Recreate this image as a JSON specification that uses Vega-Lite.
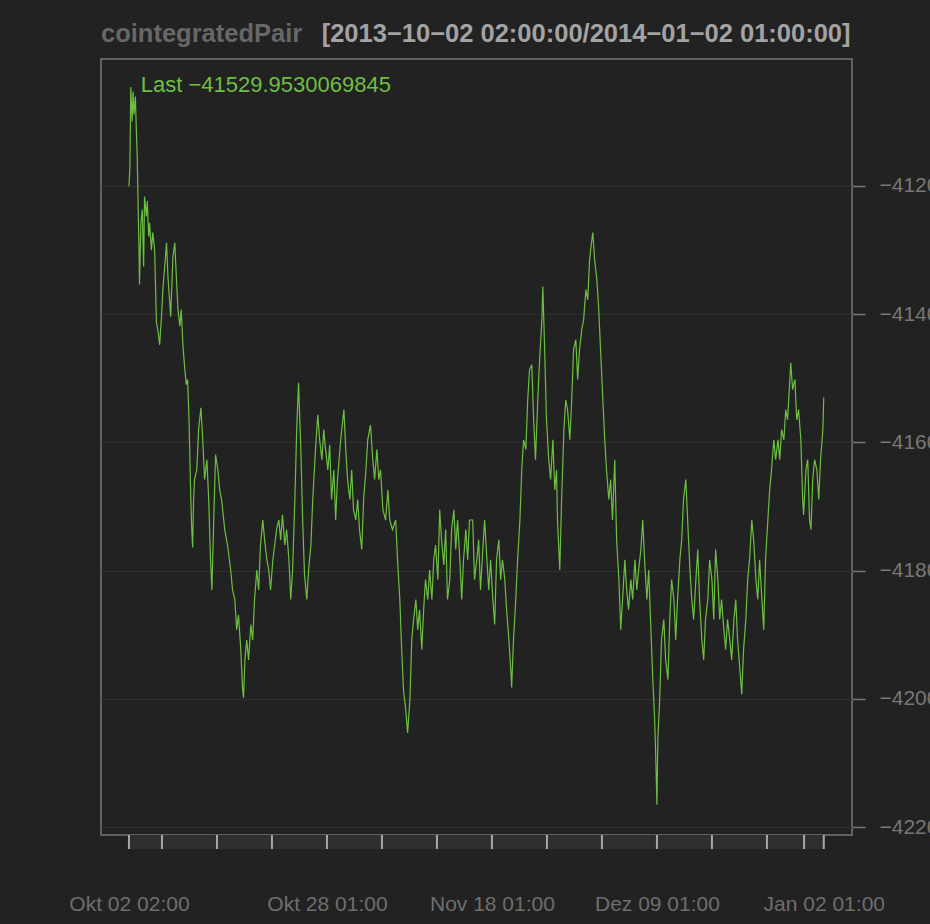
{
  "$schema": "https://vega.github.io/schema/vega-lite/v6.json",
  "autosize": {"type": "none"},
  "padding": {"left": 101, "top": 59, "right": 829, "bottom": 865},
  "background": "#222222",
  "bounds": "flush",
  "spacing": 0,
  "config": {
    "view": {"stroke": "#777777", "strokeWidth": 1.5},
    "font": "Liberation Sans",
    "axis": {"labelFont": "Liberation Sans", "labelFontSize": 21, "labelColor": "#707070"}
  },
  "vconcat": [
    {
      "width": 751,
      "height": 776,
      "layer": [
        {
          "data": {"values": [
            {"bar":1,"value":-41201},{"bar":3,"value":-41172},{"bar":5,"value":-41046},{"bar":8,"value":-41100},{"bar":10,"value":-41053},{"bar":12,"value":-41089},{"bar":15,"value":-41061},{"bar":17,"value":-41110},{"bar":19,"value":-41154},{"bar":22,"value":-41269},{"bar":23,"value":-41300},{"bar":24,"value":-41354},{"bar":27,"value":-41258},{"bar":30,"value":-41237},{"bar":33,"value":-41326},{"bar":35,"value":-41217},{"bar":39,"value":-41248},{"bar":41,"value":-41224},{"bar":44,"value":-41279},{"bar":46,"value":-41258},{"bar":50,"value":-41300},{"bar":53,"value":-41273},{"bar":57,"value":-41300},{"bar":61,"value":-41414},{"bar":64,"value":-41424},{"bar":68,"value":-41448},{"bar":72,"value":-41404},{"bar":75,"value":-41362},{"bar":79,"value":-41326},{"bar":83,"value":-41289},{"bar":86,"value":-41341},{"bar":92,"value":-41404},{"bar":97,"value":-41310},{"bar":101,"value":-41289},{"bar":105,"value":-41351},{"bar":108,"value":-41393},{"bar":112,"value":-41419},{"bar":115,"value":-41393},{"bar":119,"value":-41452},{"bar":123,"value":-41487},{"bar":126,"value":-41510},{"bar":129,"value":-41502},{"bar":132,"value":-41565},{"bar":136,"value":-41689},{"bar":138,"value":-41736},{"bar":140,"value":-41764},{"bar":142,"value":-41689},{"bar":144,"value":-41658},{"bar":149,"value":-41643},{"bar":153,"value":-41580},{"bar":158,"value":-41546},{"bar":162,"value":-41596},{"bar":166,"value":-41658},{"bar":171,"value":-41627},{"bar":175,"value":-41689},{"bar":179,"value":-41783},{"bar":182,"value":-41830},{"bar":186,"value":-41721},{"bar":190,"value":-41619},{"bar":195,"value":-41643},{"bar":199,"value":-41674},{"bar":203,"value":-41689},{"bar":210,"value":-41736},{"bar":216,"value":-41760},{"bar":223,"value":-41799},{"bar":227,"value":-41830},{"bar":232,"value":-41845},{"bar":236,"value":-41892},{"bar":240,"value":-41869},{"bar":245,"value":-41923},{"bar":249,"value":-41986},{"bar":251,"value":-41998},{"bar":254,"value":-41939},{"bar":258,"value":-41908},{"bar":262,"value":-41939},{"bar":267,"value":-41884},{"bar":271,"value":-41908},{"bar":275,"value":-41845},{"bar":280,"value":-41799},{"bar":284,"value":-41830},{"bar":288,"value":-41760},{"bar":293,"value":-41721},{"bar":297,"value":-41752},{"bar":302,"value":-41783},{"bar":306,"value":-41799},{"bar":310,"value":-41830},{"bar":315,"value":-41783},{"bar":319,"value":-41760},{"bar":323,"value":-41736},{"bar":328,"value":-41721},{"bar":332,"value":-41752},{"bar":336,"value":-41713},{"bar":341,"value":-41760},{"bar":345,"value":-41736},{"bar":350,"value":-41783},{"bar":354,"value":-41845},{"bar":358,"value":-41799},{"bar":363,"value":-41689},{"bar":367,"value":-41580},{"bar":371,"value":-41507},{"bar":376,"value":-41611},{"bar":380,"value":-41721},{"bar":384,"value":-41806},{"bar":389,"value":-41845},{"bar":393,"value":-41799},{"bar":398,"value":-41760},{"bar":402,"value":-41689},{"bar":408,"value":-41611},{"bar":413,"value":-41557},{"bar":417,"value":-41596},{"bar":422,"value":-41627},{"bar":426,"value":-41580},{"bar":430,"value":-41611},{"bar":435,"value":-41643},{"bar":439,"value":-41604},{"bar":443,"value":-41689},{"bar":448,"value":-41643},{"bar":452,"value":-41721},{"bar":456,"value":-41658},{"bar":463,"value":-41596},{"bar":470,"value":-41549},{"bar":474,"value":-41611},{"bar":478,"value":-41658},{"bar":483,"value":-41689},{"bar":487,"value":-41643},{"bar":491,"value":-41705},{"bar":496,"value":-41721},{"bar":500,"value":-41689},{"bar":504,"value":-41736},{"bar":509,"value":-41767},{"bar":513,"value":-41689},{"bar":518,"value":-41643},{"bar":522,"value":-41596},{"bar":528,"value":-41573},{"bar":533,"value":-41627},{"bar":537,"value":-41658},{"bar":542,"value":-41611},{"bar":546,"value":-41658},{"bar":550,"value":-41643},{"bar":555,"value":-41705},{"bar":561,"value":-41721},{"bar":566,"value":-41674},{"bar":570,"value":-41721},{"bar":576,"value":-41736},{"bar":583,"value":-41721},{"bar":587,"value":-41783},{"bar":592,"value":-41845},{"bar":596,"value":-41923},{"bar":600,"value":-41986},{"bar":605,"value":-42017},{"bar":609,"value":-42053},{"bar":614,"value":-42001},{"bar":618,"value":-41908},{"bar":622,"value":-41876},{"bar":627,"value":-41845},{"bar":631,"value":-41892},{"bar":635,"value":-41861},{"bar":640,"value":-41923},{"bar":644,"value":-41861},{"bar":648,"value":-41814},{"bar":653,"value":-41845},{"bar":657,"value":-41799},{"bar":662,"value":-41845},{"bar":666,"value":-41783},{"bar":670,"value":-41760},{"bar":675,"value":-41814},{"bar":679,"value":-41705},{"bar":683,"value":-41752},{"bar":688,"value":-41791},{"bar":692,"value":-41736},{"bar":696,"value":-41845},{"bar":701,"value":-41814},{"bar":705,"value":-41736},{"bar":710,"value":-41705},{"bar":714,"value":-41767},{"bar":718,"value":-41721},{"bar":723,"value":-41783},{"bar":727,"value":-41845},{"bar":731,"value":-41783},{"bar":736,"value":-41736},{"bar":740,"value":-41783},{"bar":744,"value":-41721},{"bar":751,"value":-41721},{"bar":755,"value":-41814},{"bar":760,"value":-41783},{"bar":764,"value":-41752},{"bar":768,"value":-41830},{"bar":773,"value":-41767},{"bar":777,"value":-41721},{"bar":782,"value":-41783},{"bar":786,"value":-41830},{"bar":790,"value":-41783},{"bar":795,"value":-41845},{"bar":799,"value":-41884},{"bar":803,"value":-41783},{"bar":808,"value":-41752},{"bar":812,"value":-41814},{"bar":816,"value":-41783},{"bar":821,"value":-41814},{"bar":825,"value":-41861},{"bar":830,"value":-41908},{"bar":834,"value":-41954},{"bar":836,"value":-41982},{"bar":840,"value":-41908},{"bar":845,"value":-41845},{"bar":849,"value":-41783},{"bar":854,"value":-41721},{"bar":858,"value":-41643},{"bar":862,"value":-41596},{"bar":867,"value":-41611},{"bar":871,"value":-41534},{"bar":875,"value":-41487},{"bar":880,"value":-41479},{"bar":884,"value":-41565},{"bar":888,"value":-41627},{"bar":893,"value":-41534},{"bar":897,"value":-41471},{"bar":902,"value":-41409},{"bar":904,"value":-41357},{"bar":908,"value":-41456},{"bar":912,"value":-41565},{"bar":917,"value":-41627},{"bar":921,"value":-41658},{"bar":926,"value":-41596},{"bar":930,"value":-41674},{"bar":934,"value":-41643},{"bar":936,"value":-41721},{"bar":941,"value":-41799},{"bar":945,"value":-41689},{"bar":950,"value":-41580},{"bar":954,"value":-41534},{"bar":958,"value":-41549},{"bar":963,"value":-41596},{"bar":967,"value":-41534},{"bar":971,"value":-41456},{"bar":976,"value":-41440},{"bar":980,"value":-41502},{"bar":984,"value":-41456},{"bar":989,"value":-41424},{"bar":993,"value":-41409},{"bar":998,"value":-41362},{"bar":1002,"value":-41378},{"bar":1006,"value":-41315},{"bar":1011,"value":-41284},{"bar":1013,"value":-41273},{"bar":1017,"value":-41315},{"bar":1022,"value":-41347},{"bar":1026,"value":-41393},{"bar":1030,"value":-41456},{"bar":1035,"value":-41534},{"bar":1039,"value":-41596},{"bar":1043,"value":-41643},{"bar":1048,"value":-41689},{"bar":1052,"value":-41658},{"bar":1056,"value":-41721},{"bar":1061,"value":-41627},{"bar":1065,"value":-41752},{"bar":1070,"value":-41814},{"bar":1074,"value":-41892},{"bar":1078,"value":-41845},{"bar":1083,"value":-41783},{"bar":1087,"value":-41830},{"bar":1091,"value":-41861},{"bar":1096,"value":-41814},{"bar":1100,"value":-41845},{"bar":1105,"value":-41783},{"bar":1109,"value":-41830},{"bar":1113,"value":-41799},{"bar":1118,"value":-41767},{"bar":1122,"value":-41721},{"bar":1126,"value":-41783},{"bar":1131,"value":-41845},{"bar":1135,"value":-41799},{"bar":1139,"value":-41876},{"bar":1144,"value":-41970},{"bar":1148,"value":-42032},{"bar":1150,"value":-42079},{"bar":1153,"value":-42165},{"bar":1155,"value":-42063},{"bar":1159,"value":-42001},{"bar":1163,"value":-41908},{"bar":1168,"value":-41876},{"bar":1172,"value":-41939},{"bar":1177,"value":-41970},{"bar":1181,"value":-41876},{"bar":1185,"value":-41814},{"bar":1190,"value":-41845},{"bar":1194,"value":-41908},{"bar":1198,"value":-41845},{"bar":1203,"value":-41783},{"bar":1207,"value":-41752},{"bar":1211,"value":-41689},{"bar":1216,"value":-41658},{"bar":1220,"value":-41721},{"bar":1225,"value":-41799},{"bar":1229,"value":-41845},{"bar":1233,"value":-41876},{"bar":1238,"value":-41814},{"bar":1242,"value":-41767},{"bar":1246,"value":-41845},{"bar":1251,"value":-41908},{"bar":1255,"value":-41939},{"bar":1259,"value":-41876},{"bar":1264,"value":-41845},{"bar":1268,"value":-41783},{"bar":1273,"value":-41814},{"bar":1277,"value":-41876},{"bar":1281,"value":-41767},{"bar":1286,"value":-41814},{"bar":1290,"value":-41876},{"bar":1294,"value":-41845},{"bar":1299,"value":-41892},{"bar":1303,"value":-41923},{"bar":1307,"value":-41876},{"bar":1312,"value":-41908},{"bar":1316,"value":-41939},{"bar":1321,"value":-41876},{"bar":1325,"value":-41845},{"bar":1329,"value":-41908},{"bar":1334,"value":-41954},{"bar":1338,"value":-41993},{"bar":1342,"value":-41923},{"bar":1347,"value":-41876},{"bar":1351,"value":-41814},{"bar":1355,"value":-41783},{"bar":1360,"value":-41721},{"bar":1364,"value":-41752},{"bar":1369,"value":-41814},{"bar":1373,"value":-41845},{"bar":1377,"value":-41783},{"bar":1382,"value":-41845},{"bar":1386,"value":-41892},{"bar":1390,"value":-41783},{"bar":1395,"value":-41721},{"bar":1399,"value":-41674},{"bar":1403,"value":-41643},{"bar":1408,"value":-41596},{"bar":1412,"value":-41627},{"bar":1417,"value":-41596},{"bar":1421,"value":-41627},{"bar":1425,"value":-41580},{"bar":1430,"value":-41596},{"bar":1434,"value":-41549},{"bar":1438,"value":-41565},{"bar":1443,"value":-41502},{"bar":1445,"value":-41476},{"bar":1449,"value":-41518},{"bar":1454,"value":-41502},{"bar":1458,"value":-41565},{"bar":1462,"value":-41549},{"bar":1467,"value":-41596},{"bar":1471,"value":-41689},{"bar":1473,"value":-41713},{"bar":1478,"value":-41643},{"bar":1482,"value":-41627},{"bar":1486,"value":-41721},{"bar":1489,"value":-41736},{"bar":1493,"value":-41658},{"bar":1497,"value":-41627},{"bar":1502,"value":-41643},{"bar":1506,"value":-41689},{"bar":1510,"value":-41627},{"bar":1515,"value":-41580},{"bar":1517,"value":-41529.953}
          ]},
          "mark": {"type": "line", "color": "#6CBF40", "strokeWidth": 1.2, "clip": true},
          "encoding": {
            "x": {"field": "bar", "type": "quantitative", "scale": {"domain": [-60, 1578.6], "nice": false, "zero": false}, "axis": null},
            "y": {"field": "value", "type": "quantitative", "scale": {"domain": [-42212, -41002.5], "nice": false, "zero": false},
              "axis": {"orient": "right", "values": [-41200, -41400, -41600, -41800, -42000, -42200], "format": "d", "domain": false, "ticks": true, "tickSize": 13, "tickColor": "#777777", "tickWidth": 1.5, "labelPadding": 14, "labelAlign": "left", "labelBaseline": "middle", "grid": true, "gridColor": "#2f2f2f", "gridWidth": 1, "title": null, "labelBound": false, "labelOverlap": false, "labelFlush": false, "labelColor": "#777777"}}
          }
        },
        {
          "data": {"values": [{}]},
          "mark": {"type": "text", "text": "Last −41529.9530069845", "font": "Liberation Sans", "fontSize": 22, "color": "#6CBF40", "align": "left", "baseline": "alphabetic"},
          "encoding": {
            "x": {"datum": 26.6, "type": "quantitative"},
            "y": {"datum": -41053.5, "type": "quantitative"}
          }
        },
        {
          "data": {"values": [{}]},
          "mark": {"type": "text", "text": "cointegratedPair", "font": "Liberation Sans", "fontSize": 25.5, "fontWeight": "bold", "color": "#676767", "align": "left", "baseline": "alphabetic"},
          "encoding": {
            "x": {"datum": -60, "type": "quantitative"},
            "y": {"datum": -40975.6, "type": "quantitative"}
          }
        },
        {
          "data": {"values": [{}]},
          "mark": {"type": "text", "text": "[2013−10−02 02:00:00/2014−01−02 01:00:00]", "font": "Liberation Sans", "fontSize": 25.5, "fontWeight": "bold", "color": "#a3a3a3", "align": "left", "baseline": "alphabetic"},
          "encoding": {
            "x": {"datum": 421.5, "type": "quantitative"},
            "y": {"datum": -40975.6, "type": "quantitative"}
          }
        }
      ]
    },
    {
      "width": 751,
      "height": 14,
      "view": {"stroke": null},
      "layer": [
        {
          "data": {"values": [
            {"start": 1, "end": 73}, {"start": 73, "end": 193}, {"start": 193, "end": 313}, {"start": 313, "end": 433}, {"start": 433, "end": 553}, {"start": 553, "end": 673}, {"start": 673, "end": 793}, {"start": 793, "end": 913}, {"start": 913, "end": 1033}, {"start": 1033, "end": 1153}, {"start": 1153, "end": 1273}, {"start": 1273, "end": 1393}, {"start": 1393, "end": 1474}, {"start": 1474, "end": 1517}
          ]},
          "mark": {"type": "rect", "color": "#2f2f2f"},
          "encoding": {
            "x": {"field": "start", "type": "quantitative", "scale": {"domain": [-60, 1578.6], "nice": false, "zero": false},
              "axis": {"orient": "bottom", "values": [1, 433, 793, 1153, 1517], "labelExpr": "datum.value == 1 ? 'Okt 02 02:00' : datum.value == 433 ? 'Okt 28 01:00' : datum.value == 793 ? 'Nov 18 01:00' : datum.value == 1153 ? 'Dez 09 01:00' : 'Jan 02 01:00'", "domain": false, "ticks": false, "tickSize": 0, "grid": false, "labelPadding": 61, "labelBaseline": "alphabetic", "labelAlign": "center", "labelFlush": false, "labelOverlap": false, "labelBound": false, "title": null, "labelColor": "#6e6e6e"}},
            "x2": {"field": "end"}
          }
        },
        {
          "data": {"values": [
            {"tick": 1}, {"tick": 73}, {"tick": 193}, {"tick": 313}, {"tick": 433}, {"tick": 553}, {"tick": 673}, {"tick": 793}, {"tick": 913}, {"tick": 1033}, {"tick": 1153}, {"tick": 1273}, {"tick": 1393}, {"tick": 1474}, {"tick": 1517}
          ]},
          "mark": {"type": "rule", "color": "#a8a8a8", "strokeWidth": 2},
          "encoding": {
            "x": {"field": "tick", "type": "quantitative"}
          }
        }
      ]
    }
  ]
}
